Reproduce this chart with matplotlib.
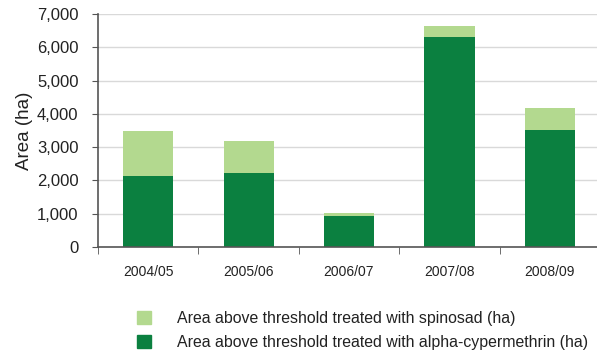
import matplotlib.pyplot as plt
from matplotlib.patches import Patch
from matplotlib.ticker import FuncFormatter

plt.rcParams['font.family'] = ['Liberation Sans', 'DejaVu Sans']

seasons = ['2004/05', '2005/06', '2006/07', '2007/08', '2008/09']
alpha_cyp = [2130, 2220, 930, 6300, 3510]
spinosad = [1340, 960, 90, 330, 660]

dark_green = '#0b8040'
light_green = '#b3d98f'

fig = plt.figure(figsize=(5.97, 3.55), dpi=100)
ax = fig.add_axes([98 / 597, 1 - 247 / 355, 502 / 597, (247 - 14) / 355])

x = range(len(seasons))
ax.bar(x, alpha_cyp, width=0.5, color=dark_green, zorder=2)
ax.bar(x, spinosad, width=0.5, bottom=alpha_cyp, color=light_green, zorder=2)

ax.set_xlim(-0.5, 4.5)
ax.set_ylim(0, 7000)
ax.set_yticks(range(0, 7001, 1000))
ax.yaxis.set_major_formatter(FuncFormatter(lambda v, p: f'{int(v):,}'))
ax.grid(axis='y', color='#d9d9d9', linewidth=1, zorder=0)

ax.set_xticks(list(x))
ax.set_xticklabels(seasons, fontsize=10, color='#222222')
ax.set_xticks([i + 0.5 for i in range(-1, 5)], minor=True)
ax.tick_params(axis='x', which='major', length=0, pad=13)
ax.tick_params(axis='x', which='minor', length=5, color='#555555', direction='out')
ax.tick_params(axis='y', length=4, color='#555555', labelsize=12, labelcolor='#222222', pad=10)

for side in ['top', 'right']:
    ax.spines[side].set_visible(False)
for side in ['left', 'bottom']:
    ax.spines[side].set_color('#555555')
    ax.spines[side].set_linewidth(1.2)

ax.set_ylabel('Area (ha)', fontsize=13.5, color='#222222', labelpad=3)

handles = [Patch(color=light_green), Patch(color=dark_green)]
labels = ['Area above threshold treated with spinosad (ha)',
          'Area above threshold treated with alpha-cypermethrin (ha)']
fig.legend(handles, labels, loc='upper left', bbox_to_anchor=(137 / 597, 1 - 311 / 355),
           frameon=False, fontsize=11.4, handlelength=0.89, handleheight=0.89,
           handletextpad=1.65, labelspacing=0.55, borderpad=0, borderaxespad=0,
           labelcolor='#222222')

plt.savefig('out.png', dpi=100)
